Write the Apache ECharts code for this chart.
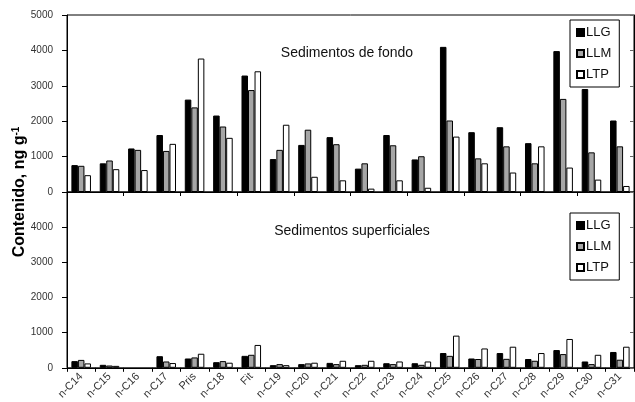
<!DOCTYPE html>
<html>
<head>
<meta charset="utf-8">
<script src="https://cdn.jsdelivr.net/npm/echarts@6/dist/echarts.min.js"></script>
<style>
html,body{margin:0;padding:0;background:#fff;}
#chart{width:635px;height:402px;}
</style>
</head>
<body>
<div id="chart"></div>
<script>
var categories = ['n-C14','n-C15','n-C16','n-C17','Pris','n-C18','Fit','n-C19','n-C20','n-C21','n-C22','n-C23','n-C24','n-C25','n-C26','n-C27','n-C28','n-C29','n-C30','n-C31'];
var seriesNames = ['LLG','LLM','LTP'];
// Sedimentos de fondo
var fondoLLG = [760, 810, 1230, 1610, 2610, 2160, 3290, 930, 1330, 1550, 660, 1610, 920, 4100, 1690, 1830, 1380, 3980, 2910, 2020];
var fondoLLM = [740, 890, 1190, 1160, 2390, 1850, 2880, 1190, 1760, 1350, 810, 1320, 1010, 2020, 950, 1290, 810, 2630, 1120, 1290];
var fondoLTP = [475, 645, 620, 1360, 3770, 1530, 3410, 1900, 430, 330, 95, 330, 120, 1565, 810, 550, 1290, 690, 350, 170];
// Sedimentos superficiales (n-C16: no bar visible)
var supLLG = [190, 85, null, 330, 265, 160, 340, 75, 105, 140, 75, 130, 130, 420, 265, 420, 250, 505, 180, 450];
var supLLM = [225, 65, null, 180, 295, 190, 370, 105, 125, 105, 85, 105, 85, 340, 250, 255, 200, 390, 105, 230];
var supLTP = [125, 55, null, 135, 400, 145, 650, 75, 145, 200, 200, 180, 180, 915, 550, 600, 420, 820, 370, 600];
var yTicks = [0, 1000, 2000, 3000, 4000, 5000];

var colors = ['#000000', '#a6a6a6', '#ffffff'];
var FONT = '"Liberation Sans Narrow", "Liberation Sans", Arial, sans-serif';
var SANS = 'Arial, "Liberation Sans", sans-serif';

var chart = echarts.init(document.getElementById('chart'), null, {renderer: 'canvas'});

var grids = [
  {left: 67, top: 15, width: 567, height: 177, show: true, borderColor: '#000', borderWidth: 1},
  {left: 67, top: 192, width: 567, height: 177, show: true, borderColor: '#000', borderWidth: 1}
];

function xAx(idx, showLabel) {
  return {
    type: 'category', gridIndex: idx, data: categories,
    axisLine: {lineStyle: {color: '#000', width: 1}},
    axisTick: {show: true, length: 4, lineStyle: {color: '#000'}, alignWithLabel: false},
    axisLabel: showLabel ? {show: true, rotate: 45, fontFamily: FONT, fontSize: 11, color: '#333', margin: 7, interval: 0} : {show: false}
  };
}
function yAx(idx, hideMax) {
  return {
    type: 'value', gridIndex: idx, min: yTicks[0], max: yTicks[yTicks.length - 1], interval: 1000,
    axisLine: {show: true, lineStyle: {color: '#000', width: 1}},
    axisTick: {show: true, length: 5, lineStyle: {color: '#000'}},
    splitLine: {show: false},
    axisLabel: {fontFamily: FONT, fontSize: 10, color: '#333', margin: 14, showMaxLabel: !hideMax,
      formatter: function (v) { return String(v); }}
  };
}
function yAxR(idx) {
  return {
    type: 'value', gridIndex: idx, position: 'right', min: 0, max: 5000, interval: 1000,
    axisLine: {show: true, lineStyle: {color: '#000', width: 1}},
    axisTick: {show: true, inside: true, length: 4, lineStyle: {color: '#666'}},
    splitLine: {show: false},
    axisLabel: {show: false}
  };
}

var dataSets = [[fondoLLG, fondoLLM, fondoLTP], [supLLG, supLLM, supLTP]];
var series = [];
for (var g = 0; g < 2; g++) {
  for (var s = 0; s < 3; s++) {
    series.push({
      name: seriesNames[s], type: 'bar', xAxisIndex: g, yAxisIndex: g * 2,
      data: dataSets[g][s],
      barGap: '0%', barCategoryGap: '31%',
      itemStyle: {color: colors[s], borderColor: '#000', borderWidth: 1},
      emphasis: {disabled: true},
      animation: false
    });
  }
}

function legend(top) {
  return {
    data: seriesNames, orient: 'vertical', left: 570, top: top,
    padding: [6, 8, 6, 6], itemGap: 8,
    itemWidth: 7, itemHeight: 7, icon: 'rect',
    borderColor: '#000', borderWidth: 1, backgroundColor: '#fff',
    textStyle: {fontFamily: FONT, fontSize: 13, color: '#111', padding: [0, 0, 0, -3]},
    selectedMode: false
  };
}

chart.setOption({
  animation: false,
  grid: grids,
  xAxis: [xAx(0, false), xAx(1, true)],
  yAxis: [yAx(0, false), yAxR(0), yAx(1, true), yAxR(1)],
  legend: [legend(20), legend(213)],
  series: series,
  graphic: [
    {type: 'text', style: {text: 'Sedimentos de fondo', x: 347, y: 53, fontFamily: SANS, fontSize: 14, fill: '#111', align: 'center', verticalAlign: 'middle'}},
    {type: 'text', style: {text: 'Sedimentos superficiales', x: 352, y: 231, fontFamily: SANS, fontSize: 14, fill: '#111', align: 'center', verticalAlign: 'middle'}},
    {type: 'text', x: 20, y: 192, rotation: Math.PI / 2,
      style: {text: 'Contenido, ng g{sup|-1}', fontFamily: SANS, fontSize: 16, fontWeight: 'bold', fill: '#000', align: 'center', verticalAlign: 'middle',
        rich: {sup: {fontSize: 10, fontWeight: 'bold', fontFamily: SANS, verticalAlign: 'top', padding: [0, 0, 8, 0]}}}}
  ]
});
</script>
</body>
</html>
